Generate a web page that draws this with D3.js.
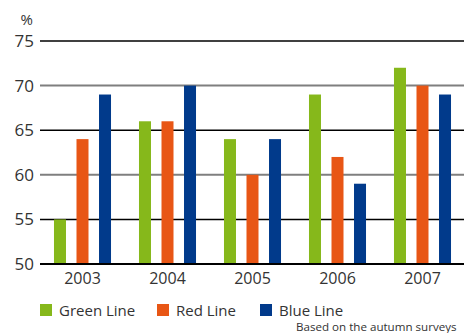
<!DOCTYPE html>
<html>
<head>
<meta charset="utf-8">
<script src="https://cdn.jsdelivr.net/npm/d3@7"></script>
<style>
  html, body { margin: 0; padding: 0; background: #fff; }
  svg { display: block; font-family: "Open Sans", "Noto Sans", sans-serif; }
</style>
</head>
<body>
<svg id="chart" width="464" height="333"></svg>
<script>
// ── Data ────────────────────────────────────────────────────────────────────
var years = ["2003", "2004", "2005", "2006", "2007"];
var seriesNames = ["Green Line", "Red Line", "Blue Line"];
var greenLine = [55, 66, 64, 69, 72];
var redLine   = [64, 66, 60, 62, 70];
var blueLine  = [69, 70, 64, 59, 69];
var yTicks = [50, 55, 60, 65, 70, 75];

var colors = ["#86b81b", "#e85615", "#013a8b"];
var seriesValues = [greenLine, redLine, blueLine];

var svg = d3.select("#chart");
var W = 464, H = 333;

// ── Scales ──────────────────────────────────────────────────────────────────
var y = d3.scaleLinear().domain([50, 75]).range([264, 41]);

var x = d3.scaleBand()
  .domain(years)
  .range([40, 465])
  .paddingInner(0.329)
  .paddingOuter(0.1645);

var xInner = d3.scaleBand()
  .domain(seriesNames)
  .range([0, x.bandwidth()])
  .paddingInner(0.467)
  .paddingOuter(0);

// ── Gridlines ───────────────────────────────────────────────────────────────
svg.append("g")
  .selectAll("line")
  .data(yTicks)
  .join("line")
  .attr("x1", 40)
  .attr("x2", W)
  .attr("y1", function (d) { return y(d); })
  .attr("y2", function (d) { return y(d); })
  .attr("stroke", function (d) { return (d === 60 || d === 70) ? "#7f7f7f" : "#000"; })
  .attr("stroke-width", function (d) { return d === 50 ? 2 : (d === 60 || d === 70 ? 2 : 1.5); });

// ── Bars ────────────────────────────────────────────────────────────────────
var groups = svg.append("g")
  .selectAll("g")
  .data(years)
  .join("g")
  .attr("transform", function (d) { return "translate(" + x(d) + ",0)"; });

groups.selectAll("rect")
  .data(function (yr, i) {
    return seriesNames.map(function (s, k) {
      return { series: s, value: seriesValues[k][i], k: k };
    });
  })
  .join("rect")
  .attr("x", function (d) { return xInner(d.series); })
  .attr("width", xInner.bandwidth())
  .attr("y", function (d) { return y(d.value); })
  .attr("height", function (d) { return y(50) - y(d.value); })
  .attr("fill", function (d) { return colors[d.k]; });

// redraw baseline on top
svg.append("line")
  .attr("x1", 40).attr("x2", W)
  .attr("y1", y(50)).attr("y2", y(50))
  .attr("stroke", "#000").attr("stroke-width", 2);

// ── Axis labels ─────────────────────────────────────────────────────────────
svg.append("g")
  .selectAll("text")
  .data(yTicks)
  .join("text")
  .attr("x", 34)
  .attr("y", function (d) { return y(d) + 6; })
  .attr("text-anchor", "end")
  .attr("font-size", "17px")
  .attr("fill", "#333")
  .text(function (d) { return d; });

svg.append("text")
  .attr("x", 33).attr("y", 25)
  .attr("text-anchor", "end")
  .attr("font-size", "15px")
  .attr("fill", "#333")
  .text("%");

svg.append("g")
  .selectAll("text")
  .data(years)
  .join("text")
  .attr("x", function (d) { return x(d) + x.bandwidth() / 2; })
  .attr("y", 284)
  .attr("text-anchor", "middle")
  .attr("font-size", "16px")
  .attr("fill", "#333")
  .text(function (d) { return d; });

// ── Legend ──────────────────────────────────────────────────────────────────
var legendX = [40, 157, 260];
var legend = svg.append("g")
  .selectAll("g")
  .data(seriesNames)
  .join("g")
  .attr("transform", function (d, i) { return "translate(" + legendX[i] + ",304)"; });

legend.append("rect")
  .attr("width", 12).attr("height", 12)
  .attr("fill", function (d, i) { return colors[i]; });

legend.append("text")
  .attr("x", 19).attr("y", 11.5)
  .attr("font-size", "15px")
  .attr("fill", "#333")
  .text(function (d) { return d; });

svg.append("text")
  .attr("x", 296).attr("y", 330.5)
  .attr("font-size", "11.6px")
  .attr("fill", "#333")
  .text("Based on the autumn surveys");
</script>
</body>
</html>
